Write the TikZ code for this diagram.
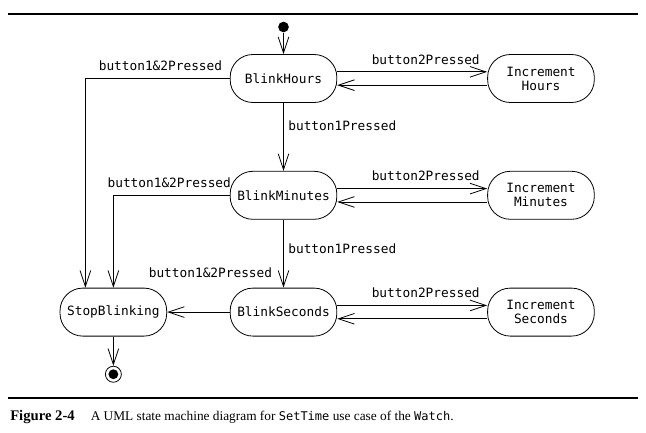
\documentclass[tikz,border=0pt]{standalone}
\usepackage{fontspec}
\setmainfont{Liberation Serif}
\setmonofont{DejaVu Sans Mono}
\usepackage{tikz}
\usetikzlibrary{
  arrows.meta,
  positioning,
  calc
}
\tikzset{
  state/.style={
    draw, rounded corners=17pt, minimum height=36pt, minimum width=80pt,
    font=\fontsize{9.6}{10.5}\selectfont\ttfamily, align=center, line width=0.6pt
  },
  initial/.style={circle, fill=black, minimum size=8pt, inner sep=0pt},
  final/.style={
    circle, draw, line width=0.6pt, minimum size=12pt, inner sep=0pt,
    path picture={\fill (path picture bounding box.center) circle (3.7pt);}
  },
  trans/.style={-{Straight Barb[length=12pt, width=8pt]}, line width=0.6pt},
  lbl/.style={font=\fontsize{9.6}{10.5}\selectfont\ttfamily},
  rule/.style={line width=1.6pt}
}

\begin{document}
\begin{tikzpicture}[x=0.75pt, y=0.75pt, node distance=51pt and 112.5pt]
  \useasboundingbox (0,0) rectangle (646,-432);
  % the rules above and below
  \draw[rule] (8,-14) -- (638,-14);
  \draw[rule] (8,-398) -- (638,-398);

  % states
  \node[state] (bhours) at (283.5,-78.5) {BlinkHours};
  \node[state, below=of bhours] (bmin) {BlinkMinutes};
  \node[state, below=of bmin] (bsec) {BlinkSeconds};
  \node[state, left=47pt of bsec] (stop) {StopBlinking};
  \node[state, right=of bhours] (ihours) {Increment\\Hours};
  \node[state, right=of bmin] (imin) {Increment\\Minutes};
  \node[state, right=of bsec] (isec) {Increment\\Seconds};
  \node[initial] (init) at (283.5,-27) {};
  \node[final, below=22pt of stop] (fin) {};

  % transitions
  \draw[trans] (init) -- (bhours);
  \draw[trans] (bhours) -- (bmin) node[lbl, right, pos=0.33] {button1Pressed};
  \draw[trans] (bmin) -- (bsec) node[lbl, right, pos=0.42] {button1Pressed};
  \draw[trans] (bhours.west) -| ([xshift=-21pt]stop.north)
    node[lbl, above=2pt, pos=0.24] {button1\&2Pressed};
  \draw[trans] (bmin.west) -| (stop.north)
    node[lbl, above=2pt, pos=0.26] {button1\&2Pressed};
  \draw[trans] (bsec) -- (stop);
  \node[lbl, anchor=base east] (lsec) at ([xshift=-5pt, yshift=8pt]bsec.north) {button1\&2Pressed};
  \draw[trans] (stop) -- (fin);

  \foreach \a/\b in {bhours/ihours, bmin/imin, bsec/isec} {
    \draw[trans] ([yshift=5pt]\a.east) -- ([yshift=5pt]\b.west)
      node[lbl, above=2pt, pos=0.59] {button2Pressed};
    \draw[trans] ([yshift=-5pt]\b.west) -- ([yshift=-5pt]\a.east);
  }

  % caption
  \node[anchor=base west, inner sep=0pt, font=\fontsize{10}{12}\selectfont] (cap) at (10,-420)
    {{\fontsize{11}{12}\selectfont\textbf{Figure 2-4}}\hspace{12pt}A UML state machine diagram for {\fontsize{9}{12}\selectfont\texttt{SetTime}} use case of the {\fontsize{9}{12}\selectfont\texttt{Watch}}.};
\end{tikzpicture}
\end{document}
